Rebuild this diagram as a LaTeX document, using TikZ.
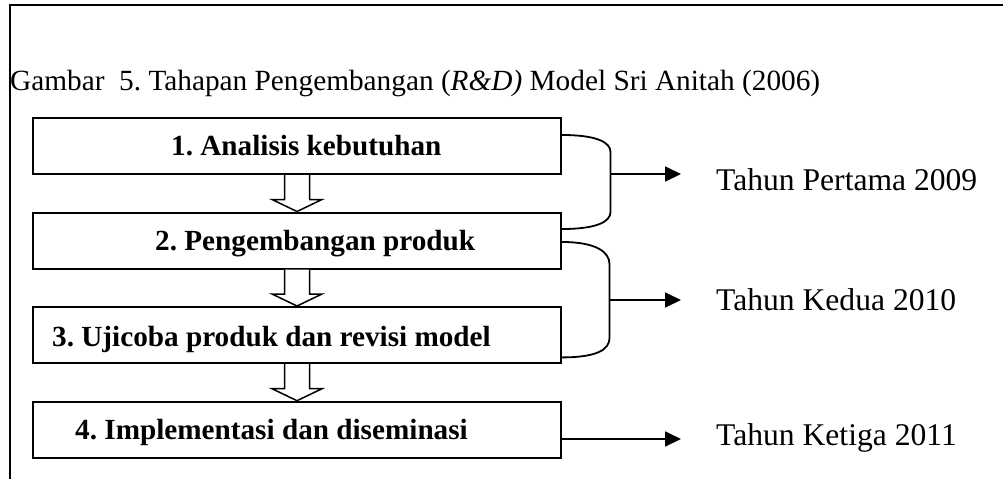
\documentclass[tikz,border=0pt]{standalone}
\usepackage{fontspec}
\setmainfont{Liberation Serif}
\usetikzlibrary{calc,arrows.meta}
\frenchspacing
\begin{document}
\begin{tikzpicture}[x=1pt,y=-1pt,
  stagebox/.style={draw=black,line width=2pt,minimum width=528pt,minimum height=56pt,inner sep=0pt},
  stagetext/.style={anchor=base west,inner sep=0pt,font=\fontsize{29.2}{34}\selectfont\bfseries},
  yeartext/.style={anchor=base west,inner sep=0pt,font=\fontsize{31.6}{36}\selectfont},
  hollow/.style={draw=black,fill=white,line width=1.5pt,line join=miter},
  bracket/.style={draw=black,line width=1.8pt},
  yeararrow/.style={draw=black,line width=1.8pt,-{Triangle[length=16pt,width=15pt]}}]
\useasboundingbox (0,0) rectangle (1003,479);
% frame
\coordinate (ftl) at (9.5,5);
\coordinate (ftr) at (1003,5);
\coordinate (fbl) at (9.5,479);
\draw[line width=2pt] (ftr) -- (ftl) -- (fbl);
% title
\node[anchor=base west,inner sep=0pt,font=\fontsize{29.3}{34}\selectfont] (title) at (10,90)
  {Gambar~ 5. Tahapan Pengembangan (\textit{R\&D)} Model Sri Anitah (2006)};
% boxes
\node[stagebox] (b1) at (297,146) {};
\node[stagebox] (b2) at (297,240.5) {};
\node[stagebox] (b3) at (297,335) {};
\node[stagebox] (b4) at (297,429.7) {};
\node[stagetext] (t1) at (171,155) {1. Analisis kebutuhan};
\node[stagetext] (t2) at (155,250) {2. Pengembangan produk};
\node[stagetext] (t3) at (52,346) {3. Ujicoba produk dan revisi model};
\node[stagetext] (t4) at (75,439) {4. Implementasi dan diseminasi};
% hollow arrows
\newcommand\hollowarrow[2]{%
  \draw[hollow] ($(#1.south)+(-12.5,0)$) -- ($(#2.north)+(-12.5,-12)$) -- ($(#2.north)+(-25,-12)$)
    -- (#2.north) -- ($(#2.north)+(25,-12)$) -- ($(#2.north)+(12.5,-12)$) -- ($(#1.south)+(12.5,0)$);}
\hollowarrow{b1}{b2}
\hollowarrow{b2}{b3}
\hollowarrow{b3}{b4}
% brackets
\coordinate (m1) at ($(b1.east)+(48.5,28)$);
\draw[bracket] ($(b1.north east)+(0,18)$) .. controls +(34,0) and +(0,-10) .. ($(b1.north east)+(48.5,35)$)
   -- ($(b1.north east)+(48.5,95)$) .. controls +(0,10) and +(34,0) .. ($(b2.north east)+(0,17.5)$);
\coordinate (m2) at ($(b2.east)+(47.5,59.5)$);
\draw[bracket] ($(b2.north east)+(0,30.5)$) .. controls +(34,0) and +(0,-12) .. ($(b2.north east)+(47.5,52.5)$)
   -- ($(b3.south east)+(47.5,-26)$) .. controls +(0,12) and +(34,0) .. ($(b3.south east)+(0,-6.6)$);
\coordinate (m3) at ($(b4.east)+(0,9.3)$);
% year labels
\node[yeartext] (y1) at (716,190) {Tahun Pertama 2009};
\node[yeartext] (y2) at (716,310) {Tahun Kedua 2010};
\node[yeartext] (y3) at (716,445) {Tahun Ketiga 2011};
\coordinate (a1) at (m1 -| 681,0);
\coordinate (a2) at (m2 -| 681,0);
\coordinate (a3) at (m3 -| 681,0);
\draw[yeararrow] (m1) -- (a1);
\draw[yeararrow] (m2) -- (a2);
\draw[yeararrow] (m3) -- (a3);
\end{tikzpicture}
\end{document}
